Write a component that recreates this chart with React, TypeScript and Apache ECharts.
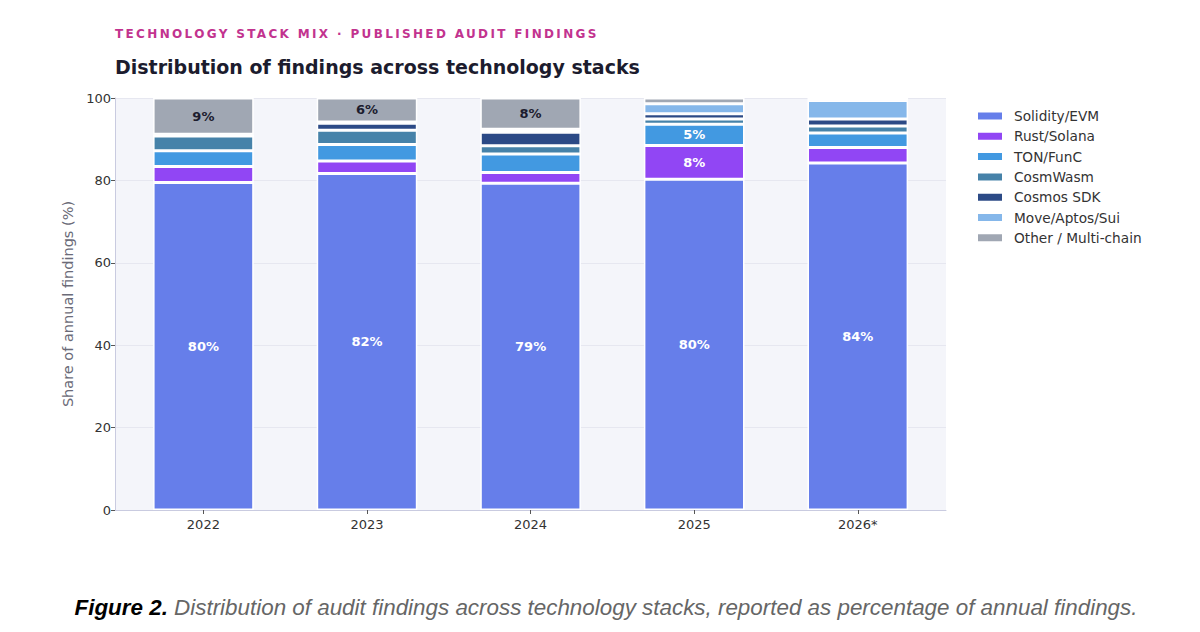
import { useEffect, useRef } from "react";
import * as echarts from "echarts";

const years = ["2022", "2023", "2024", "2025", "2026*"];

// share of annual findings (%)
const solidity = [79.5, 81.7, 79.3, 80.3, 84.2];
const rustSolana = [3.9, 3.0, 2.6, 8.2, 3.8];
const tonFunc = [3.8, 4.0, 4.5, 5.1, 3.5];
const cosmWasm = [3.6, 3.5, 2.0, 1.3, 1.7];
const cosmosSdk = [0, 1.7, 3.3, 1.3, 1.7];
const moveAptosSui = [0.4, 0.3, 0.7, 2.4, 4.5];
const other = [8.8, 5.8, 7.6, 1.4, 0.6];

const yTicks = [0, 20, 40, 60, 80, 100];

const stacks = [
  { name: "Solidity/EVM", data: solidity, color: "#667eea", label: "#ffffff" },
  { name: "Rust/Solana", data: rustSolana, color: "#9146f4", label: "#ffffff" },
  { name: "TON/FunC", data: tonFunc, color: "#4299e1", label: "#ffffff" },
  { name: "CosmWasm", data: cosmWasm, color: "#4682a9", label: "#ffffff" },
  { name: "Cosmos SDK", data: cosmosSdk, color: "#2c4a86", label: "#ffffff" },
  { name: "Move/Aptos/Sui", data: moveAptosSui, color: "#85b7ea", label: "#1c1c2e" },
  { name: "Other / Multi-chain", data: other, color: "#a0a7b3", label: "#1c1c2e" },
];

const kicker = "TECHNOLOGY STACK MIX · PUBLISHED AUDIT FINDINGS";
const heading = "Distribution of findings across technology stacks";
const caption =
  "Distribution of audit findings across technology stacks, reported as percentage of annual findings.";

const FONT = "'DejaVu Sans', sans-serif";
const CAPTION_FONT = "'Liberation Sans', Arial, sans-serif";

export default function App() {
  const chartRef = useRef<HTMLDivElement>(null);

  useEffect(() => {
    if (!chartRef.current) return;
    const chart = echarts.init(chartRef.current, null, { renderer: "svg" });

    chart.setOption({
      animation: false,
      backgroundColor: "#ffffff",
      textStyle: { fontFamily: FONT },
      grid: [
        // frame: background, y axis, gridlines
        {
          left: 115,
          top: 98,
          width: 831,
          height: 412,
          show: true,
          backgroundColor: "#f4f5fa",
          borderWidth: 0,
        },
        // bars: matplotlib-like side margins
        { left: 121.6, top: 98, width: 818, height: 412 },
      ],
      xAxis: [
        {
          gridIndex: 0,
          type: "value",
          min: 0,
          max: 1,
          axisLine: { show: true, lineStyle: { color: "#c9cbe0", width: 1 } },
          axisTick: { show: false },
          axisLabel: { show: false },
          splitLine: { show: false },
        },
        {
          gridIndex: 1,
          type: "category",
          data: years,
          axisLine: { show: false },
          axisTick: {
            show: true,
            alignWithLabel: true,
            length: 4,
            lineStyle: { color: "#555555" },
          },
          axisLabel: { color: "#333333", fontSize: 13, margin: 8, fontFamily: FONT },
        },
      ],
      yAxis: [
        {
          gridIndex: 0,
          type: "value",
          min: 0,
          max: 100,
          interval: 20,
          name: "Share of annual findings (%)",
          nameLocation: "middle",
          nameGap: 40,
          nameTextStyle: { color: "#6b6b78", fontSize: 14.5, fontFamily: FONT },
          axisLine: { show: true, lineStyle: { color: "#c9cbe0", width: 1 } },
          axisTick: { show: true, length: 4, lineStyle: { color: "#555555" } },
          axisLabel: {
            color: "#333333",
            fontSize: 13,
            margin: 4,
            fontFamily: FONT,
            formatter: (v: number) => (yTicks.includes(v) ? String(v) : ""),
          },
          splitLine: { show: true, lineStyle: { color: "#e6e7f0", width: 1 } },
        },
        { gridIndex: 1, type: "value", min: 0, max: 100, show: false },
      ],
      legend: {
        orient: "vertical",
        left: 976,
        top: 109,
        padding: 0,
        itemWidth: 26,
        itemHeight: 9,
        itemGap: 6.3,
        icon: "rect",
        textStyle: { color: "#333333", fontSize: 13.7, fontFamily: FONT, padding: [0, 0, 0, 6] },
        data: stacks.map((s) => s.name),
      },
      series: stacks.map((s) => ({
        name: s.name,
        type: "bar",
        stack: "share",
        xAxisIndex: 1,
        yAxisIndex: 1,
        barWidth: "61.5%",
        data: s.data,
        itemStyle: { color: s.color, borderColor: "#ffffff", borderWidth: 1.5 },
        label: {
          show: true,
          position: "inside",
          color: s.label,
          fontSize: 13,
          fontWeight: "bold",
          fontFamily: FONT,
          formatter: (p: any) => (p.value >= 5 ? `${Math.round(p.value)}%` : ""),
        },
        emphasis: { disabled: true },
      })),
      graphic: [
        {
          type: "text",
          x: 115,
          y: 34,
          style: {
            text: kicker,
            fill: "#c2338f",
            font: `bold 12px ${FONT}`,
            textVerticalAlign: "middle",
          },
        },
        {
          type: "text",
          x: 115,
          y: 67,
          style: {
            text: heading,
            fill: "#1c1c2e",
            font: `bold 19px ${FONT}`,
            textVerticalAlign: "middle",
          },
        },
        {
          type: "text",
          x: 606,
          y: 607,
          style: {
            text: `{b|Figure 2.}{i| ${caption}}`,
            textAlign: "center",
            textVerticalAlign: "middle",
            rich: {
              b: {
                fontFamily: CAPTION_FONT,
                fontStyle: "italic",
                fontWeight: "bold",
                fontSize: 22.4,
                fill: "#000000",
              },
              i: {
                fontFamily: CAPTION_FONT,
                fontStyle: "italic",
                fontSize: 22.4,
                fill: "#666666",
              },
            },
          },
        },
      ],
    });

    // the kicker is letter-spaced; zrender has no letterSpacing, so set it on the svg text
    const spaceKicker = () => {
      chartRef.current?.querySelectorAll("text").forEach((t) => {
        if (t.textContent === kicker) t.setAttribute("letter-spacing", "2.35");
      });
    };
    chart.on("finished", spaceKicker);
    spaceKicker();

    return () => {
      chart.dispose();
    };
  }, []);

  return (
    <div
      ref={chartRef}
      style={{ position: "absolute", left: 0, top: 0, width: 1200, height: 632 }}
    />
  );
}
